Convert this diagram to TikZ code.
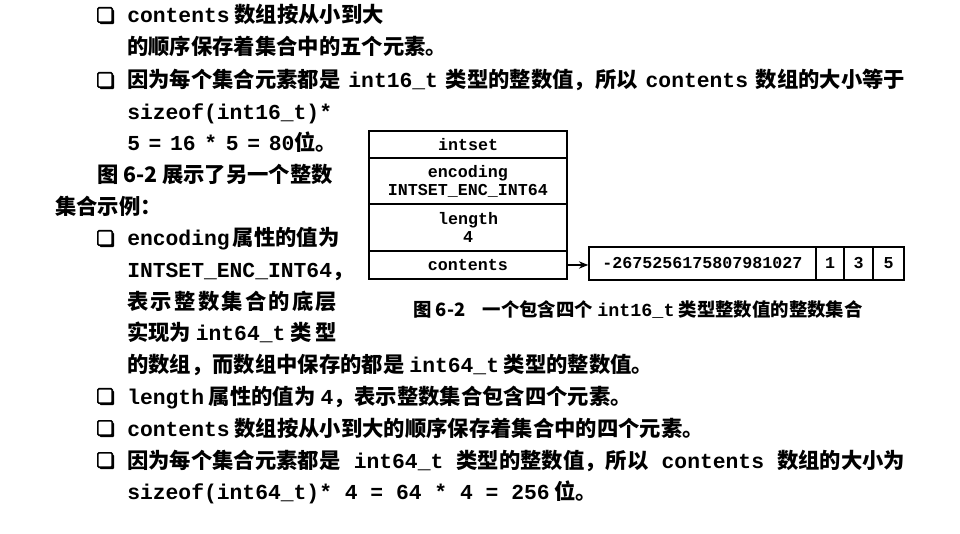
\documentclass[tikz,border=0pt]{standalone}
\usepackage{fontspec}
\setmainfont{Noto Sans CJK SC}
\newfontfamily\mono{Liberation Mono}
\usetikzlibrary{arrows.meta,shadows}
\newcommand\m[1]{{\mono\bfseries #1}}
\newcommand\jb[2]{\makebox[\dimexpr 0.75pt*#1\relax][s]{#2}}
\newcommand\nsp{\hspace{6.5pt}}
\newcommand\hf{\hfill{}}
\tikzset{
  txt/.style={anchor=base west, inner sep=0pt, font=\fontsize{16}{16}\selectfont\bfseries},
  captxt/.style={anchor=base west, inner sep=0pt, font=\fontsize{13.8}{13.8}\selectfont\bfseries},
  bulbox/.style={draw, line width=1.2pt, fill=white, minimum size=10.8pt, inner sep=0pt,
    rounded corners=0.8pt,
    drop shadow={opacity=1, fill=black, shadow xshift=1.4pt, shadow yshift=-1.4pt}},
  cell/.style={draw, line width=1.1pt, inner sep=0pt, align=center,
    font=\mono\bfseries\fontsize{12.5}{13.5}\selectfont},
  link/.style={line width=1.1pt, -{Stealth[length=7pt,width=5.5pt]}}
}
\begin{document}
\begin{tikzpicture}[x=0.75pt,y=-0.75pt]
\useasboundingbox (0,0) rectangle (960,534);
\fill[white] (0,0) rectangle (960,534);

% bullets
\node[bulbox] (b1) at (105,15) {};
\node[bulbox] (b3) at (105,80) {};
\node[bulbox] (b8) at (105,238) {};
\node[bulbox] (b13) at (105,396) {};
\node[bulbox] (b14) at (105,428) {};
\node[bulbox] (b15) at (105,460) {};

% text lines
\node[txt] (l1) at (127,23) {\m{contents} 数组按从小到大};
\node[txt] (l2) at (127,55) {的顺序保存着集合中的五个元素。};
\node[txt] (l3) at (127,88) {\jb{778}{因为每个集合元素都是 \m{int16\_t} 类型的整数值，所以 \m{contents} 数组的大小等于}};
\node[txt] (l4) at (127,120) {\m{sizeof(int16\_t)*}};
\node[txt] (l5) at (127,151) {\m{5\nsp=\nsp16\nsp*\nsp5\nsp=\nsp80}位。};
\node[txt] (l6) at (97,183) {图\hspace{3.5pt}6-2\hspace{3.5pt}展示了另一个整数};
\node[txt] (l7) at (55,215) {集合示例：};
\node[txt] (l8) at (127,246) {\jb{210}{\m{encoding} 属性的值为}};
\node[txt] (l9) at (127,278) {\m{INTSET\_ENC\_INT64}，};
\node[txt] (l10) at (127,310) {\jb{210}{表\hf 示\hf 整\hf 数\hf 集\hf 合\hf 的\hf 底\hf 层}};
\node[txt] (l11) at (127,341) {\jb{210}{实现为\hf \m{int64\_t}\hf 类\hf 型}};
\node[txt] (l12) at (127,373) {的数组，而数组中保存的都是 \m{int64\_t} 类型的整数值。};
\node[txt] (l13) at (127,404) {\m{length} 属性的值为 \m{4}，表示整数集合包含四个元素。};
\node[txt] (l14) at (127,436) {\m{contents} 数组按从小到大的顺序保存着集合中的四个元素。};
\node[txt] (l15) at (127,468) {\jb{778}{因为每个集合元素都是 \m{int64\_t} 类型的整数值，所以 \m{contents} 数组的大小为}};
\node[txt] (l16) at (127,499) {\m{sizeof(int64\_t)* 4 = 64 * 4 = 256} 位。};

% diagram
\node[cell, minimum width=148.5pt, minimum height=20.25pt] (intset) at (468,144.5) {intset};
\node[cell, minimum width=148.5pt, minimum height=34.5pt] (enc) at (468,181) {encoding\\INTSET\_ENC\_INT64};
\node[cell, minimum width=148.5pt, minimum height=35.25pt] (len) at (468,227.5) {length\\4};
\node[cell, minimum width=148.5pt, minimum height=21pt] (cont) at (468,265) {contents};
\node[cell, minimum width=170.25pt, minimum height=24.75pt] (arr) at (702.5,263.5) {-2675256175807981027};
\node[cell, minimum width=21pt, minimum height=24.75pt] (c1) at (830,263.5) {1};
\node[cell, minimum width=21.75pt, minimum height=24.75pt] (c3) at (858.5,263.5) {3};
\node[cell, minimum width=23.25pt, minimum height=24.75pt] (c5) at (888.5,263.5) {5};
\draw[link] (cont.east) -- (cont.east -| arr.west);

% caption
\node[captxt] (cap) at (413,317) {图 6-2\hspace{13pt}一个包含四个 \m{int16\_t} 类型整数值的整数集合};
\end{tikzpicture}
\end{document}
